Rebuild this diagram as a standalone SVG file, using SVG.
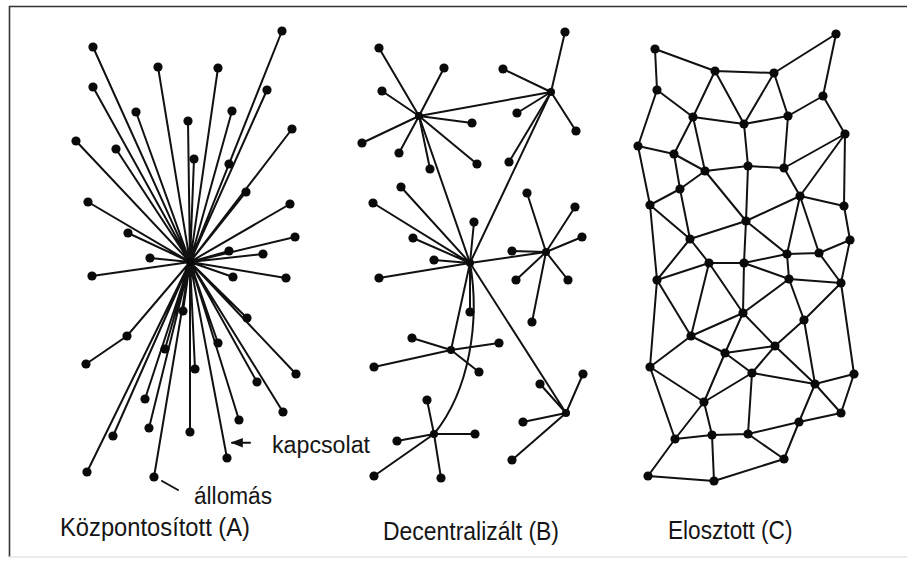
<svg xmlns="http://www.w3.org/2000/svg" width="907" height="565" viewBox="0 0 907 565">
<style>
.e{stroke:#111;stroke-width:2;fill:none;stroke-linecap:round}
.d{fill:#0a0a0a}
.t{font-family:"Liberation Sans",Arial,sans-serif;fill:#151515}
.f{stroke:#333;stroke-width:1.6}
</style>
<defs>
<marker id="ah" viewBox="0 0 10 10" refX="9" refY="5" markerWidth="6" markerHeight="6" orient="auto">
<path d="M0,1 L10,5 L0,9 Z" fill="#111"/>
</marker>
</defs>
<rect width="907" height="565" fill="#fff"/>
<g id="frame">
<line class="f" x1="9" y1="6.5" x2="907" y2="6.5"/>
<line class="f" x1="9.5" y1="6" x2="9.5" y2="557"/>
<line x1="9" y1="557" x2="907" y2="557" stroke="#e4e4e4" stroke-width="1.5"/>
</g>
<g id="connectors">
<g id="conn-A">
<path class="e" d="M190,262L93,47M190,262L282,31M190,262L158,67M190,262L218,68M190,262L93,87M190,262L267,90M190,262L136,112M190,262L232,111M190,262L188,121M190,262L292,129M190,262L76,141M190,262L116,149M190,262L194,159M190,262L229,164M190,262L246,192M190,262L88,202M190,262L290,204M190,262L128,233M190,262L295,237M190,262L229,251M190,262L263,254M190,262L150,258M190,262L92,276M190,262L233,277M190,262L286,278M190,262L183,311M190,262L247,318M190,262L127,336L86,364M190,262L165,349M190,262L218,343M190,262L195,369M190,262L296,374M190,262L257,382M190,262L145,399M190,262L283,412M190,262L239,420M190,262L149,428M190,262L190,432M190,262L113,436M190,262L227,458M190,262L87,472M190,262L154,477"/>
</g>
<g id="conn-B">
<path class="e" d="M419,116L379,48M419,116L444,68M419,116L382,91M419,116L472,123M419,116L362,143M419,116L399,153M419,116L430,169M419,116L477,164"/>
<path class="e" d="M551,92L565,32M551,92L503,69M551,92L517,113M551,92L576,131M551,92L509,162"/>
<path class="e" d="M419,116L551,92M470,263L419,116M470,263L551,92"/>
<path class="e" d="M470,263L401,187M470,263L373,203M470,263L474,222M470,263L413,238M470,263L434,260M470,263L379,278M470,263L470,312"/>
<path class="e" d="M546,252L527,193M546,252L575,207M546,252L582,237M546,252L512,251M546,252L516,280M546,252L568,280M546,252L532,322M470,263L546,252"/>
<path class="e" d="M451,350L412,338M451,350L499,343M451,350L374,367M451,350L479,372M451,350L470,263"/>
<path class="e" d="M434,434L427,400M434,434L475,434M434,434L397,441M434,434L374,476M434,434L441,478M434,434C470,390 480,320 470,263"/>
<path class="e" d="M566,413L583,374M566,413L540,384M566,413L523,422M566,413L512,460M470,263L566,413"/>
</g>
<g id="conn-C">
<path class="e" d="M655,49L715,71M655,49L657,90M715,71L774,73M774,73L836,34M836,34L823,96M715,71L693,117M715,71L744,124M774,73L744,124M774,73L788,116M823,96L788,116M823,96L845,134M657,90L693,117M657,90L638,146M693,117L744,124M744,124L788,116M693,117L674,154M693,117L705,171M744,124L748,166M788,116L784,168M638,146L674,154M638,146L650,205M674,154L705,171M674,154L680,189M705,171L680,189M705,171L748,166M748,166L784,168M784,168L845,134M845,134L800,196M784,168L800,196M845,134L844,206M800,196L844,206M680,189L650,205"/>
<path class="e" d="M680,189L690,239M650,205L690,239M705,171L746,221M748,166L746,221M746,221L800,196M844,206L850,240M800,196L787,254M800,196L819,253M690,239L746,221M746,221L787,254M746,221L744,263M787,254L819,253M819,253L850,240M690,239L709,263M690,239L657,280M709,263L744,263M744,263L787,254M744,263L789,279M787,254L789,279M819,253L841,283M789,279L841,283M850,240L841,283M657,280L709,263M709,263L691,336M709,263L743,313M744,263L743,313M789,279L743,313M789,279L804,320M841,283L804,320M657,280L691,336M743,313L691,336M650,205L657,280"/>
<path class="e" d="M691,336L725,353M691,336L650,367M743,313L725,353M743,313L775,346M804,320L775,346M804,320L815,384M841,283L854,374M725,353L775,346M725,353L752,373M775,346L752,373M775,346L815,384M752,373L815,384M815,384L854,374M725,353L704,402M752,373L704,402M650,367L704,402M650,367L675,439M657,280L650,367M704,402L675,439M704,402L712,435M752,373L748,434M815,384L841,413M854,374L841,413M815,384L799,422M799,422L841,413M748,434L799,422M799,422L784,459M748,434L784,459M675,439L712,435M712,435L748,434M675,439L648,476M648,476L714,481M712,435L714,481M714,481L784,459"/>
</g>
<g id="conn-labels">
<line class="e" x1="250" y1="442.7" x2="232" y2="442.7" stroke-width="1.5" marker-end="url(#ah)"/>
<line class="e" x1="178" y1="490" x2="162" y2="481" stroke-width="1.5"/>
</g>
</g>
<g id="nodes-A">
<g id="a-hub"><circle class="d" cx="190" cy="262" r="4"/></g>
<g id="a1"><circle class="d" cx="93" cy="47" r="4.6"/></g>
<g id="a2"><circle class="d" cx="282" cy="31" r="4.6"/></g>
<g id="a3"><circle class="d" cx="158" cy="67" r="4.6"/></g>
<g id="a4"><circle class="d" cx="218" cy="68" r="4.6"/></g>
<g id="a5"><circle class="d" cx="93" cy="87" r="4.6"/></g>
<g id="a6"><circle class="d" cx="267" cy="90" r="4.6"/></g>
<g id="a7"><circle class="d" cx="136" cy="112" r="4.6"/></g>
<g id="a8"><circle class="d" cx="232" cy="111" r="4.6"/></g>
<g id="a9"><circle class="d" cx="188" cy="121" r="4.6"/></g>
<g id="a10"><circle class="d" cx="292" cy="129" r="4.6"/></g>
<g id="a11"><circle class="d" cx="76" cy="141" r="4.6"/></g>
<g id="a12"><circle class="d" cx="116" cy="149" r="4.6"/></g>
<g id="a13"><circle class="d" cx="194" cy="159" r="4.6"/></g>
<g id="a14"><circle class="d" cx="229" cy="164" r="4.6"/></g>
<g id="a15"><circle class="d" cx="246" cy="192" r="4.6"/></g>
<g id="a16"><circle class="d" cx="88" cy="202" r="4.6"/></g>
<g id="a17"><circle class="d" cx="290" cy="204" r="4.6"/></g>
<g id="a18"><circle class="d" cx="128" cy="233" r="4.6"/></g>
<g id="a19"><circle class="d" cx="295" cy="237" r="4.6"/></g>
<g id="a20"><circle class="d" cx="229" cy="251" r="4.6"/></g>
<g id="a21"><circle class="d" cx="263" cy="254" r="4.6"/></g>
<g id="a22"><circle class="d" cx="150" cy="258" r="4.6"/></g>
<g id="a23"><circle class="d" cx="92" cy="276" r="4.6"/></g>
<g id="a24"><circle class="d" cx="233" cy="277" r="4.6"/></g>
<g id="a25"><circle class="d" cx="286" cy="278" r="4.6"/></g>
<g id="a26"><circle class="d" cx="183" cy="311" r="4.6"/></g>
<g id="a27"><circle class="d" cx="247" cy="318" r="4.6"/></g>
<g id="a28"><circle class="d" cx="127" cy="336" r="4.6"/></g>
<g id="a29"><circle class="d" cx="165" cy="349" r="4.6"/></g>
<g id="a30"><circle class="d" cx="218" cy="343" r="4.6"/></g>
<g id="a31"><circle class="d" cx="86" cy="364" r="4.6"/></g>
<g id="a32"><circle class="d" cx="195" cy="369" r="4.6"/></g>
<g id="a33"><circle class="d" cx="296" cy="374" r="4.6"/></g>
<g id="a34"><circle class="d" cx="257" cy="382" r="4.6"/></g>
<g id="a35"><circle class="d" cx="145" cy="399" r="4.6"/></g>
<g id="a36"><circle class="d" cx="283" cy="412" r="4.6"/></g>
<g id="a37"><circle class="d" cx="239" cy="420" r="4.6"/></g>
<g id="a38"><circle class="d" cx="149" cy="428" r="4.6"/></g>
<g id="a39"><circle class="d" cx="190" cy="432" r="4.6"/></g>
<g id="a40"><circle class="d" cx="113" cy="436" r="4.6"/></g>
<g id="a41"><circle class="d" cx="227" cy="458" r="4.6"/></g>
<g id="a42"><circle class="d" cx="87" cy="472" r="4.6"/></g>
<g id="a43"><circle class="d" cx="154" cy="477" r="4.6"/></g>
</g>
<g id="nodes-B">
<g id="b-h1"><circle class="d" cx="419" cy="116" r="4"/></g>
<g id="b-h2"><circle class="d" cx="551" cy="92" r="4"/></g>
<g id="b-h3"><circle class="d" cx="470" cy="263" r="4"/></g>
<g id="b-h4"><circle class="d" cx="546" cy="252" r="4"/></g>
<g id="b-h5"><circle class="d" cx="451" cy="350" r="4"/></g>
<g id="b-h6"><circle class="d" cx="434" cy="434" r="4"/></g>
<g id="b-h7"><circle class="d" cx="566" cy="413" r="4"/></g>
<g id="b1"><circle class="d" cx="379" cy="48" r="4.6"/></g>
<g id="b2"><circle class="d" cx="444" cy="68" r="4.6"/></g>
<g id="b3"><circle class="d" cx="382" cy="91" r="4.6"/></g>
<g id="b4"><circle class="d" cx="472" cy="123" r="4.6"/></g>
<g id="b5"><circle class="d" cx="362" cy="143" r="4.6"/></g>
<g id="b6"><circle class="d" cx="399" cy="153" r="4.6"/></g>
<g id="b7"><circle class="d" cx="430" cy="169" r="4.6"/></g>
<g id="b8"><circle class="d" cx="477" cy="164" r="4.6"/></g>
<g id="b9"><circle class="d" cx="565" cy="32" r="4.6"/></g>
<g id="b10"><circle class="d" cx="503" cy="69" r="4.6"/></g>
<g id="b11"><circle class="d" cx="517" cy="113" r="4.6"/></g>
<g id="b12"><circle class="d" cx="576" cy="131" r="4.6"/></g>
<g id="b13"><circle class="d" cx="509" cy="162" r="4.6"/></g>
<g id="b14"><circle class="d" cx="401" cy="187" r="4.6"/></g>
<g id="b15"><circle class="d" cx="373" cy="203" r="4.6"/></g>
<g id="b16"><circle class="d" cx="474" cy="222" r="4.6"/></g>
<g id="b17"><circle class="d" cx="413" cy="238" r="4.6"/></g>
<g id="b18"><circle class="d" cx="434" cy="260" r="4.6"/></g>
<g id="b19"><circle class="d" cx="379" cy="278" r="4.6"/></g>
<g id="b20"><circle class="d" cx="470" cy="312" r="4.6"/></g>
<g id="b21"><circle class="d" cx="527" cy="193" r="4.6"/></g>
<g id="b22"><circle class="d" cx="575" cy="207" r="4.6"/></g>
<g id="b23"><circle class="d" cx="582" cy="237" r="4.6"/></g>
<g id="b24"><circle class="d" cx="512" cy="251" r="4.6"/></g>
<g id="b25"><circle class="d" cx="516" cy="280" r="4.6"/></g>
<g id="b26"><circle class="d" cx="568" cy="280" r="4.6"/></g>
<g id="b27"><circle class="d" cx="532" cy="322" r="4.6"/></g>
<g id="b28"><circle class="d" cx="412" cy="338" r="4.6"/></g>
<g id="b29"><circle class="d" cx="499" cy="343" r="4.6"/></g>
<g id="b30"><circle class="d" cx="374" cy="367" r="4.6"/></g>
<g id="b31"><circle class="d" cx="479" cy="372" r="4.6"/></g>
<g id="b32"><circle class="d" cx="427" cy="400" r="4.6"/></g>
<g id="b33"><circle class="d" cx="475" cy="434" r="4.6"/></g>
<g id="b34"><circle class="d" cx="397" cy="441" r="4.6"/></g>
<g id="b35"><circle class="d" cx="374" cy="476" r="4.6"/></g>
<g id="b36"><circle class="d" cx="441" cy="478" r="4.6"/></g>
<g id="b37"><circle class="d" cx="583" cy="374" r="4.6"/></g>
<g id="b38"><circle class="d" cx="540" cy="384" r="4.6"/></g>
<g id="b39"><circle class="d" cx="523" cy="422" r="4.6"/></g>
<g id="b40"><circle class="d" cx="512" cy="460" r="4.6"/></g>
</g>
<g id="nodes-C">
<g id="c1"><circle class="d" cx="655" cy="49" r="4.6"/></g>
<g id="c2"><circle class="d" cx="715" cy="71" r="4.6"/></g>
<g id="c3"><circle class="d" cx="774" cy="73" r="4.6"/></g>
<g id="c4"><circle class="d" cx="836" cy="34" r="4.6"/></g>
<g id="c5"><circle class="d" cx="657" cy="90" r="4.6"/></g>
<g id="c6"><circle class="d" cx="823" cy="96" r="4.6"/></g>
<g id="c7"><circle class="d" cx="693" cy="117" r="4.6"/></g>
<g id="c8"><circle class="d" cx="744" cy="124" r="4.6"/></g>
<g id="c9"><circle class="d" cx="788" cy="116" r="4.6"/></g>
<g id="c10"><circle class="d" cx="845" cy="134" r="4.6"/></g>
<g id="c11"><circle class="d" cx="638" cy="146" r="4.6"/></g>
<g id="c12"><circle class="d" cx="674" cy="154" r="4.6"/></g>
<g id="c13"><circle class="d" cx="705" cy="171" r="4.6"/></g>
<g id="c14"><circle class="d" cx="748" cy="166" r="4.6"/></g>
<g id="c15"><circle class="d" cx="784" cy="168" r="4.6"/></g>
<g id="c16"><circle class="d" cx="680" cy="189" r="4.6"/></g>
<g id="c17"><circle class="d" cx="800" cy="196" r="4.6"/></g>
<g id="c18"><circle class="d" cx="650" cy="205" r="4.6"/></g>
<g id="c19"><circle class="d" cx="844" cy="206" r="4.6"/></g>
<g id="c20"><circle class="d" cx="746" cy="221" r="4.6"/></g>
<g id="c21"><circle class="d" cx="690" cy="239" r="4.6"/></g>
<g id="c22"><circle class="d" cx="850" cy="240" r="4.6"/></g>
<g id="c23"><circle class="d" cx="787" cy="254" r="4.6"/></g>
<g id="c24"><circle class="d" cx="819" cy="253" r="4.6"/></g>
<g id="c25"><circle class="d" cx="709" cy="263" r="4.6"/></g>
<g id="c26"><circle class="d" cx="744" cy="263" r="4.6"/></g>
<g id="c27"><circle class="d" cx="657" cy="280" r="4.6"/></g>
<g id="c28"><circle class="d" cx="789" cy="279" r="4.6"/></g>
<g id="c29"><circle class="d" cx="841" cy="283" r="4.6"/></g>
<g id="c30"><circle class="d" cx="743" cy="313" r="4.6"/></g>
<g id="c31"><circle class="d" cx="804" cy="320" r="4.6"/></g>
<g id="c32"><circle class="d" cx="691" cy="336" r="4.6"/></g>
<g id="c33"><circle class="d" cx="775" cy="346" r="4.6"/></g>
<g id="c34"><circle class="d" cx="725" cy="353" r="4.6"/></g>
<g id="c35"><circle class="d" cx="650" cy="367" r="4.6"/></g>
<g id="c36"><circle class="d" cx="752" cy="373" r="4.6"/></g>
<g id="c37"><circle class="d" cx="854" cy="374" r="4.6"/></g>
<g id="c38"><circle class="d" cx="815" cy="384" r="4.6"/></g>
<g id="c39"><circle class="d" cx="704" cy="402" r="4.6"/></g>
<g id="c40"><circle class="d" cx="841" cy="413" r="4.6"/></g>
<g id="c41"><circle class="d" cx="799" cy="422" r="4.6"/></g>
<g id="c42"><circle class="d" cx="675" cy="439" r="4.6"/></g>
<g id="c43"><circle class="d" cx="712" cy="435" r="4.6"/></g>
<g id="c44"><circle class="d" cx="748" cy="434" r="4.6"/></g>
<g id="c45"><circle class="d" cx="784" cy="459" r="4.6"/></g>
<g id="c46"><circle class="d" cx="648" cy="476" r="4.6"/></g>
<g id="c47"><circle class="d" cx="714" cy="481" r="4.6"/></g>
</g>
<g id="labels">
<text class="t" x="272" y="453" font-size="23" textLength="98" lengthAdjust="spacingAndGlyphs">kapcsolat</text>
<text class="t" x="194" y="504" font-size="23" textLength="78" lengthAdjust="spacingAndGlyphs">állomás</text>
<text class="t" x="60" y="536" font-size="25" textLength="190" lengthAdjust="spacingAndGlyphs">Központosított (A)</text>
<text class="t" x="383" y="540" font-size="25" textLength="176" lengthAdjust="spacingAndGlyphs">Decentralizált (B)</text>
<text class="t" x="668" y="539" font-size="25" textLength="124.5" lengthAdjust="spacingAndGlyphs">Elosztott (C)</text>
</g>
</svg>
